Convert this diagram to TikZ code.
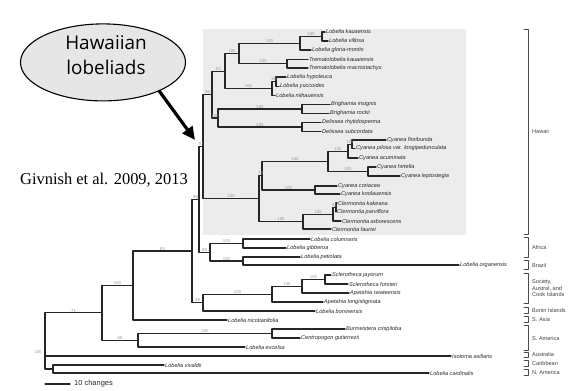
\documentclass[tikz,border=0pt]{standalone}
\usepackage{fontspec}
\setmainfont{Liberation Serif}
\newfontfamily\arialfam{Liberation Sans}
\newfontfamily\bubblefam{Open Sans}
\usetikzlibrary{shapes.geometric,arrows.meta}
\definecolor{boxgray}{RGB}{236,236,236}
\definecolor{bubblegray}{RGB}{230,230,230}
\definecolor{bootgray}{RGB}{150,150,150}
\newcommand\taxonfont{\arialfam\itshape\fontsize{5.6}{6}\selectfont}
\newcommand\bootfont{\arialfam\fontsize{4.3}{5}\selectfont}
\newcommand\regionfont{\arialfam\fontsize{5.6}{6.8}\selectfont}
\tikzset{branch/.style={draw=black!85,line width=1.1pt},
 taxon/.style={anchor=west,inner sep=1pt,font=\taxonfont,text=black!85},
 support/.style={pos=.75,above=-0.3pt,inner sep=0.5pt,font=\bootfont,text=bootgray},
 region/.style={anchor=west,inner sep=0pt,font=\regionfont,text=black!75,align=left},
 bracket/.style={draw=black!70,line width=.7pt},
 every picture/.style={line join=round,line cap=round}}

\begin{document}
\begin{tikzpicture}[x=1bp,y=-1bp]
\useasboundingbox (0,0) rectangle (574,390);
% shaded Hawaiian clade
\path[fill=boxgray] (203,29) rectangle (466,235);
% internal nodes
\coordinate (nKV) at (322,36.5);
\coordinate (nLob) at (300,43.25);
\coordinate (nTre) at (287,63.75);
\coordinate (nLT) at (239,53.5);
\coordinate (nHY) at (276,81.75);
\coordinate (nHYN) at (272,88.6);
\coordinate (nX) at (225,71.05);
\coordinate (nBri) at (302,109);
\coordinate (nDel) at (302,127);
\coordinate (nBD) at (218,118);
\coordinate (nHawA) at (212,94.5);
\coordinate (nFP) at (352,144.25);
\coordinate (nFPA) at (348,151.1);
\coordinate (nHL) at (368,171.5);
\coordinate (nCyA) at (328,161.3);
\coordinate (nCK) at (315,190);
\coordinate (nCy) at (262,175.65);
\coordinate (nKP) at (336,207.5);
\coordinate (nKPA) at (333,214.25);
\coordinate (nCl) at (303,221.6);
\coordinate (nCC) at (259,198.6);
\coordinate (nHaw) at (203,146.55);
\coordinate (nAf) at (243,243.5);
\coordinate (nBr) at (243,261);
\coordinate (nAB) at (210,252.25);
\coordinate (nHAB) at (199,199.4);
\coordinate (nSc) at (325,279.5);
\coordinate (nScA) at (302,286.25);
\coordinate (nSA) at (272,294.1);
\coordinate (nPac) at (203,302.55);
\coordinate (nP) at (192,251);
\coordinate (nQ) at (133,285.5);
\coordinate (nBC) at (272,333.5);
\coordinate (nE) at (138,340.25);
\coordinate (nI) at (102,312.9);
\coordinate (nVC) at (53,369);
\coordinate (root) at (45,341);
% taxa
\node[taxon] (kauaensis) at (325,32) {Lobelia kauaensis};
\node[taxon] (villosa) at (328,41) {Lobelia villosa};
\node[taxon] (gloria) at (311,50) {Lobelia gloria-montis};
\node[taxon] (tkauai) at (308,59.5) {Trematolobelia kauaiensis};
\node[taxon] (tmacro) at (308,68) {Trematolobelia macrostachys};
\node[taxon] (hypoleuca) at (286,77) {Lobelia hypoleuca};
\node[taxon] (yuccoides) at (279,86.5) {Lobelia yuccoides};
\node[taxon] (niihau) at (275,95.5) {Lobelia niihauensis};
\node[taxon] (insignis) at (330,104.5) {Brighamia insignis};
\node[taxon] (rockii) at (329,113.5) {Brighamia rockii};
\node[taxon] (rhytido) at (321,122.5) {Delissea rhytidosperma};
\node[taxon] (subcord) at (321,131.5) {Delissea subcordata};
\node[taxon] (floribunda) at (386,140) {Cyanea floribunda};
\node[taxon] (pilosa) at (355,148.5) {Cyanea pilosa var. longipedunculata};
\node[taxon] (acuminata) at (358,158) {Cyanea acuminata};
\node[taxon] (hirtella) at (376,167) {Cyanea hirtella};
\node[taxon] (lepto) at (400,176) {Cyanea leptostegia};
\node[taxon] (coriacea) at (337,186) {Cyanea coriacea};
\node[taxon] (koolau) at (340,194) {Cyanea koolauensis};
\node[taxon] (kakeana) at (337,203) {Clermontia kakeana};
\node[taxon] (parviflora) at (336,212) {Clermontia parviflora};
\node[taxon] (arbor) at (341,221) {Clermontia arborescens};
\node[taxon] (fauriei) at (331,229) {Clermontia fauriei};
\node[taxon] (columnaris) at (310,239) {Lobelia columnaris};
\node[taxon] (gibberoa) at (286,248) {Lobelia gibberoa};
\node[taxon] (petiolata) at (300,257) {Lobelia petiolata};
\node[taxon] (organensis) at (459,265) {Lobelia organensis};
\node[taxon] (jayorum) at (331,275) {Sclerotheca jayorum};
\node[taxon] (forsteri) at (348,284) {Sclerotheca forsteri};
\node[taxon] (raiat) at (349,293) {Apetahia raiateensis};
\node[taxon] (longist) at (323,302) {Apetahia longistigmata};
\node[taxon] (bonin) at (315,311) {Lobelia boninensis};
\node[taxon] (nicot) at (227,320) {Lobelia nicotianifolia};
\node[taxon] (crispi) at (345,329) {Burmeistera crispiloba};
\node[taxon] (gutier) at (300,338) {Centropogon gutierrezii};
\node[taxon] (excelsa) at (245,347) {Lobelia excelsa};
\node[taxon] (isotoma) at (451,356) {Isotoma axillaris};
\node[taxon] (vivaldii) at (164,365) {Lobelia vivaldii};
\node[taxon] (cardinalis) at (429,373) {Lobelia cardinalis};
% branches
\draw[branch] (nKV) |- (kauaensis.west);
\draw[branch] (nKV) |- (villosa.west);
\draw[branch] (nLob) |- node[support]{100} (nKV);
\draw[branch] (nLob) |- (gloria.west);
\draw[branch] (nTre) |- (tkauai.west);
\draw[branch] (nTre) |- (tmacro.west);
\draw[branch] (nLT) |- node[support]{100} (nLob);
\draw[branch] (nLT) |- node[support]{100} (nTre);
\draw[branch] (nHY) |- (hypoleuca.west);
\draw[branch] (nHY) |- (yuccoides.west);
\draw[branch] (nHYN) |- node[support]{58} (nHY);
\draw[branch] (nHYN) |- (niihau.west);
\draw[branch] (nX) |- node[support]{100} (nLT);
\draw[branch] (nX) |- node[support]{100} (nHYN);
\draw[branch] (nBri) |- (insignis.west);
\draw[branch] (nBri) |- (rockii.west);
\draw[branch] (nDel) |- (rhytido.west);
\draw[branch] (nDel) |- (subcord.west);
\draw[branch] (nBD) |- node[support]{100} (nBri);
\draw[branch] (nBD) |- node[support]{100} (nDel);
\draw[branch] (nHawA) |- node[support]{84} (nX);
\draw[branch] (nHawA) |- node[support]{100} (nBD);
\draw[branch] (nFP) |- (floribunda.west);
\draw[branch] (nFP) |- (pilosa.west);
\draw[branch] (nFPA) |- node[support]{100} (nFP);
\draw[branch] (nFPA) |- (acuminata.west);
\draw[branch] (nHL) |- (hirtella.west);
\draw[branch] (nHL) |- (lepto.west);
\draw[branch] (nCyA) |- node[support]{100} (nFPA);
\draw[branch] (nCyA) |- node[support]{100} (nHL);
\draw[branch] (nCK) |- (coriacea.west);
\draw[branch] (nCK) |- (koolau.west);
\draw[branch] (nCy) |- node[support]{100} (nCyA);
\draw[branch] (nCy) |- node[support]{100} (nCK);
\draw[branch] (nKP) |- (kakeana.west);
\draw[branch] (nKP) |- (parviflora.west);
\draw[branch] (nKPA) |- node[support]{61} (nKP);
\draw[branch] (nKPA) |- (arbor.west);
\draw[branch] (nCl) |- node[support]{100} (nKPA);
\draw[branch] (nCl) |- (fauriei.west);
\draw[branch] (nCC) |- node[support]{76} (nCy);
\draw[branch] (nCC) |- node[support]{100} (nCl);
\draw[branch] (nHaw) |- node[support]{96} (nHawA);
\draw[branch] (nHaw) |- node[support]{100} (nCC);
\draw[branch] (nAf) |- (columnaris.west);
\draw[branch] (nAf) |- (gibberoa.west);
\draw[branch] (nBr) |- (petiolata.west);
\draw[branch] (nBr) |- (organensis.west);
\draw[branch] (nAB) |- node[support]{100} (nAf);
\draw[branch] (nAB) |- node[support]{100} (nBr);
\draw[branch] (nHAB) |- node[support]{97} (nHaw);
\draw[branch] (nHAB) |- node[support]{88} (nAB);
\draw[branch] (nSc) |- (jayorum.west);
\draw[branch] (nSc) |- (forsteri.west);
\draw[branch] (nScA) |- node[support]{100} (nSc);
\draw[branch] (nScA) |- (raiat.west);
\draw[branch] (nSA) |- node[support]{100} (nScA);
\draw[branch] (nSA) |- (longist.west);
\draw[branch] (nPac) |- node[support]{100} (nSA);
\draw[branch] (nPac) |- (bonin.west);
\draw[branch] (nP) |- node[support]{98} (nHAB);
\draw[branch] (nP) |- node[support]{49} (nPac);
\draw[branch] (nQ) |- node[support]{83} (nP);
\draw[branch] (nQ) |- (nicot.west);
\draw[branch] (nBC) |- (crispi.west);
\draw[branch] (nBC) |- (gutier.west);
\draw[branch] (nE) |- node[support]{100} (nBC);
\draw[branch] (nE) |- (excelsa.west);
\draw[branch] (nI) |- node[support]{100} (nQ);
\draw[branch] (nI) |- node[support]{68} (nE);
\draw[branch] (nVC) |- (vivaldii.west);
\draw[branch] (nVC) |- (cardinalis.west);
\draw[branch] (root) |- node[support]{71} (nI);
\draw[branch] (root) |- (isotoma.west);
\draw[branch] (root) |- (nVC);
\node[inner sep=0.5pt,font=\bootfont,text=bootgray] (rootboot) at (38,352) {100};
% geographic brackets
\draw[bracket] (524,29) -| (528,234) -- (524,234);
\node[region] (hawaii) at (532,131) {Hawaii};
\draw[bracket] (524,237) -| (528,257) -- (524,257);
\node[region] (africa) at (532,247) {Africa};
\draw[bracket] (524,260) -| (528,269) -- (524,269);
\node[region] (brazil) at (532,265) {Brazil};
\draw[bracket] (524,273) -| (528,303) -- (524,303);
\node[region] (society) at (532,288) {Society,\\Austral, and\\Cook Islands};
\draw[bracket] (524,307) -| (528,313) -- (524,313);
\node[region] (boninisl) at (532,310) {Bonin Islands};
\draw[bracket] (524,316) -| (528,322) -- (524,322);
\node[region] (sasia) at (532,319) {S. Asia};
\draw[bracket] (524,325) -| (528,350) -- (524,350);
\node[region] (samerica) at (532,338) {S. America};
\draw[bracket] (524,352) -| (528,357) -- (524,357);
\node[region] (australia) at (532,354.5) {Australia};
\draw[bracket] (524,360) -| (528,366) -- (524,366);
\node[region] (caribbean) at (532,363) {Caribbean};
\draw[bracket] (524,369) -| (528,375) -- (524,375);
\node[region] (namerica) at (532,372) {N. America};
% scale bar
\coordinate (barL) at (45,384);
\coordinate (barR) at (70,384);
\draw[branch] (barL) -- (barR);
\node[anchor=west,inner sep=0pt,font=\arialfam\fontsize{7.5}{8}\selectfont,text=black!85] (barlab) at (74,384) {10 changes};
% callout
\node[ellipse,draw=black,fill=bubblegray,line width=1.1pt,minimum width=165bp,minimum height=77bp,inner sep=0pt] (bubble) at (103,62.4) {};
\node[align=center,inner sep=0pt,font=\bubblefam\fontsize{19}{25}\selectfont] (bubbletext) at (106,55) {Hawaiian\\lobeliads};
\coordinate (arrowtip) at (195,140);
\draw[line width=3.2bp,-{Triangle[length=13bp,width=12bp]}] (bubble.-27) -- (arrowtip);
\node[font=\fontsize{16.5}{18}\selectfont] (cite) at (104,180) {Givnish et al. 2009, 2013};
\end{tikzpicture}
\end{document}
